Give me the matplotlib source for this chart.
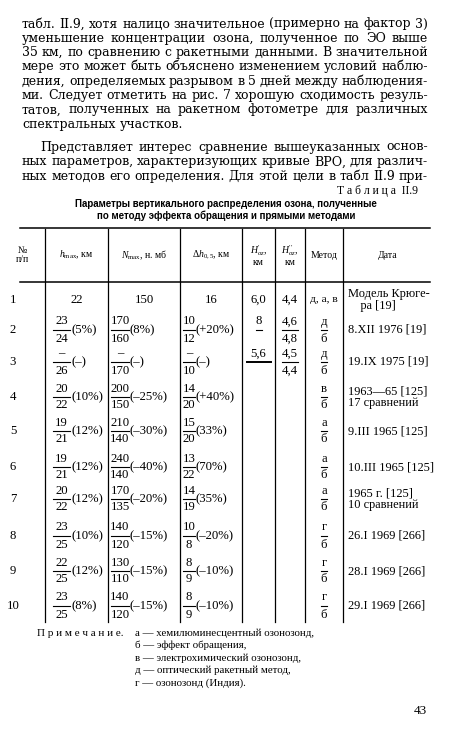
import matplotlib
matplotlib.use("Agg")
import matplotlib.pyplot as plt

plt.rcParams['font.family'] = ['Liberation Serif', 'DejaVu Serif']
plt.rcParams['mathtext.fontset'] = 'custom'
plt.rcParams['mathtext.rm'] = 'Liberation Serif'
plt.rcParams['mathtext.it'] = 'Liberation Serif:italic'

# текст страницы
para1 = [
    "табл. II.9, хотя налицо значительное (примерно на фактор 3)",
    "уменьшение концентрации озона,  полученное  по ЭО выше",
    "35 км, по сравнению с ракетными данными. В значительной",
    "мере это может быть объяснено изменением условий наблю-",
    "дения, определяемых разрывом в 5 дней между наблюдения-",
    "ми. Следует отметить на рис. 7 хорошую сходимость резуль-",
    "татов, полученных на ракетном фотометре  для  различных",
    "спектральных участков.",
]
para2 = [
    "Представляет интерес сравнение вышеуказанных основ-",
    "ных параметров, характеризующих кривые ВРО, для различ-",
    "ных методов его определения. Для этой цели в табл  II.9 при-",
]

# данные таблицы
row_no = ["1", "2", "3", "4", "5", "6", "7", "8", "9", "10"]
hmax_num = ["22", "23", "–", "20", "19", "19", "20", "23", "22", "23"]
hmax_den = [None, "24", "26", "22", "21", "21", "22", "25", "25", "25"]
hmax_pct = ["", "(5%)", "(–)", "(10%)", "(12%)", "(12%)", "(12%)", "(10%)", "(12%)", "(8%)"]
nmax_num = ["150", "170", "–", "200", "210", "240", "170", "140", "130", "140"]
nmax_den = [None, "160", "170", "150", "140", "140", "135", "120", "110", "120"]
nmax_pct = ["", "(8%)", "(–)", "(–25%)", "(–30%)", "(–40%)", "(–20%)", "(–15%)", "(–15%)", "(–15%)"]
dh_num = ["16", "10", "–", "14", "15", "13", "14", "10", "8", "8"]
dh_den = [None, "12", "10", "20", "20", "22", "19", "8", "9", "9"]
dh_pct = ["", "(+20%)", "(–)", "(+40%)", "(33%)", "(70%)", "(35%)", "(–20%)", "(–10%)", "(–10%)"]
h1_vals = ["6,0", "8", "5,6"]
h2_num = ["4,4", "4,6", "4,5"]
h2_den = [None, "4,8", "4,4"]
method_num = ["д, а, в", "д", "д", "в", "а", "а", "а", "г", "г", "г"]
method_den = [None, "б", "б", "б", "б", "б", "б", "б", "б", "б"]
dates = ["Модель Крюге-\n    ра [19]", "8.XII 1976 [19]", "19.IX 1975 [19]",
         "1963—65 [125]\n17 сравнений", "9.III 1965 [125]", "10.III 1965 [125]",
         "1965 г. [125]\n10 сравнений", "26.I 1969 [266]", "28.I 1969 [266]",
         "29.I 1969 [266]"]
headers = ["№\nп/п", "$h_{\\rm max}$, км", "$N_{\\rm max}$, н. мб", "$\\Delta h_{0,5}$, км",
           "$H_{oz}^{\\prime}$,\nкм", "$H_{oz}^{\\prime\\prime}$,\nкм", "Метод", "Дата"]
notes = ["а — хемилюминесцентный озонозонд,", "б — эффект обращения,",
         "в — электрохимический озонозонд,", "д — оптический ракетный метод,",
         "г — озонозонд (Индия)."]

row_y = [300, 330, 362, 397, 431, 467, 499, 536, 571, 606]
col_x = [10, 45, 108, 180, 242, 275, 305, 343, 432]

fig = plt.figure(figsize=(4.5, 7.32), dpi=100)
ax = fig.add_axes([0, 0, 1, 1])
ax.set_xlim(0, 450)
ax.set_ylim(732, 0)
ax.axis('off')
renderer = fig.canvas.get_renderer()


def justify(line, x0, x1, y, fs, last=False):
    # раскладываем слова по ширине строки
    words = line.split()
    arts = [ax.text(0, y, w, fontsize=fs, va='center', family='DejaVu Serif') for w in words]
    widths = [a.get_window_extent(renderer).width for a in arts]
    if last or len(words) == 1:
        gap = fs * 0.45
    else:
        gap = (x1 - x0 - sum(widths)) / (len(words) - 1)
    x = x0
    for a, w in zip(arts, widths):
        a.set_x(x)
        x += w + gap


fs = 9.0
for i, line in enumerate(para1):
    justify(line, 22, 428, 24 + i * 14.3, fs, last=(i == len(para1) - 1))
for i, line in enumerate(para2):
    justify(line, 40 if i == 0 else 22, 428, 147 + i * 14.8, fs)

ax.text(418, 191, "Т а б л и ц а  II.9", fontsize=8.4, ha='right', va='center')
ax.text(226, 204, "Параметры вертикального распределения озона, полученные",
        fontsize=7.0, ha='center', va='center', weight='bold', family='Liberation Sans')
ax.text(226, 216, "по методу эффекта обращения и прямыми методами",
        fontsize=7.0, ha='center', va='center', weight='bold', family='Liberation Sans')

ax.plot([20, 430], [228, 228], color='black', lw=1.1)
ax.plot([20, 430], [282, 282], color='black', lw=1.1)
for x in col_x[1:-1]:
    ax.plot([x, x], [229, 622], color='black', lw=0.9)

centers = [(col_x[i] + col_x[i + 1]) / 2 for i in range(len(col_x) - 1)]
centers[0] = 22
for c, h in zip(centers, headers):
    ax.text(c, 255, h, fontsize=7.0, ha='center', va='center', linespacing=1.0)

tf = 9.2


def frac(x, y, num, den, pct, w=12):
    if den is None:
        ax.text(x + w / 2 + 4, y, num, fontsize=tf, ha='center', va='center')
        return
    ax.text(x + w / 2, y - 8.5, num, fontsize=tf, ha='center', va='center')
    ax.plot([x, x + w], [y, y], color='black', lw=0.8)
    ax.text(x + w / 2, y + 8.5, den, fontsize=tf, ha='center', va='center')
    ax.text(x + w + 1, y, pct, fontsize=tf, ha='left', va='center')


for i, y in enumerate(row_y):
    ax.text(13, y, row_no[i], fontsize=tf, ha='center', va='center')
    if i == 0:
        ax.text(centers[1], y, hmax_num[i], fontsize=tf, ha='center', va='center')
        ax.text(centers[2], y, nmax_num[i], fontsize=tf, ha='center', va='center')
        ax.text(centers[3], y, dh_num[i], fontsize=tf, ha='center', va='center')
        ax.text(centers[6], y, method_num[i], fontsize=8.2, ha='center', va='center')
    else:
        frac(53, y, hmax_num[i], hmax_den[i], hmax_pct[i], 17)
        frac(111, y, nmax_num[i], nmax_den[i], nmax_pct[i], 18)
        frac(183, y, dh_num[i], dh_den[i], dh_pct[i], 12)
        ax.text(centers[6], y - 8.5, method_num[i], fontsize=tf, ha='center', va='center')
        ax.plot([centers[6] - 3, centers[6] + 3], [y, y], color='black', lw=0.8)
        ax.text(centers[6], y + 8.5, method_den[i], fontsize=tf, ha='center', va='center')
    ax.text(348, y, dates[i], fontsize=8.9, ha='left', va='center', linespacing=1.0)

for i, v in enumerate(h1_vals):
    y = row_y[i] if i == 0 else row_y[i] - 8.5
    ax.text(centers[4], y, v, fontsize=tf, ha='center', va='center')
ax.plot([centers[4] - 3, centers[4] + 3], [row_y[1], row_y[1]], color='black', lw=0.8)
ax.plot([centers[4] - 12, centers[4] + 12], [row_y[2], row_y[2]], color='black', lw=1.4)
for i in range(3):
    if h2_den[i] is None:
        ax.text(centers[5], row_y[i], h2_num[i], fontsize=tf, ha='center', va='center')
    else:
        frac(centers[5] - 8, row_y[i], h2_num[i], h2_den[i], "", 16)

ax.text(37, 633, "П р и м е ч а н и е.", fontsize=8.0, ha='left', va='center')
for i, n in enumerate(notes):
    ax.text(135, 633 + i * 12.5, n, fontsize=7.8, ha='left', va='center')

ax.text(420, 711, "43", fontsize=9.5, ha='center', va='center')

fig.savefig("out.png", dpi=100)
